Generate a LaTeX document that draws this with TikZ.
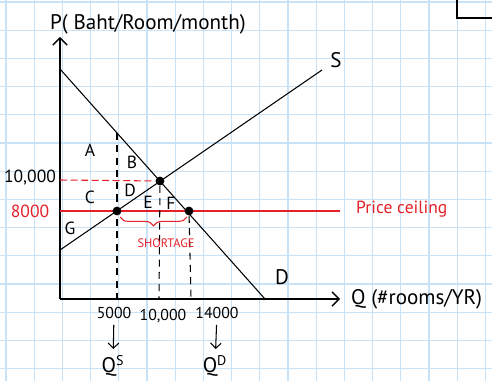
\documentclass[tikz,border=0pt]{standalone}
\usepackage{fontspec}
\setmainfont{PT Sans}
\usetikzlibrary{arrows.meta,decorations.pathreplacing}
\definecolor{gridblue}{RGB}{200,226,248}
\definecolor{ceilred}{RGB}{228,32,40}

\begin{document}
\begin{tikzpicture}[x=0.02cm, y=-0.02cm, font=\normalsize,
  curve/.style={draw=black, semithick},
  axis/.style={draw=black, thick, -{Straight Barb[length=4pt]}},
  guide/.style={draw=black, semithick, dash pattern=on 4pt off 3pt},
  dot/.style={circle, fill=black, inner sep=0pt, minimum size=5pt},
  redtxt/.style={text=ceilred},
  big/.style={font=\large},
  tick/.style={font=\small}]
\useasboundingbox (0,0) rectangle (492,381);
% grid paper
\foreach \i in {0,...,17} {\draw[gridblue, line width=0.6pt] (6+\i*28.2,0) -- (6+\i*28.2,381);}
\foreach \j in {0,...,13} {\draw[gridblue, line width=0.6pt] (0,2+\j*28.2) -- (492,2+\j*28.2);}
\draw[semithick] (457,0) -- (457,18) -- (492,18);

% axes
\coordinate (O) at (60,299);
\coordinate (yTop) at (60,37);
\coordinate (xEnd) at (340,299);
\draw[axis] (O) -- (yTop);
\draw[axis] (O) -- (xEnd);
\node[big, anchor=west] (pLab) at (44,24) {P( Baht/Room/month)};
\node[big, anchor=west] (qLab) at (345,299) {Q (\#rooms/YR)};

% demand and supply
\coordinate (dTop) at (60,69); \coordinate (dBot) at (265,299);
\coordinate (sBot) at (60,250); \coordinate (sTop) at (322,70);
\draw[curve] (dTop) -- (dBot);
\draw[curve] (sBot) -- (sTop);
\node[big] (sLab) at (336,60) {S};
\node[big] (dLab) at (282,277) {D};

% price ceiling
\coordinate (pcL) at (60,211); \coordinate (pcR) at (340,211);
\draw[ceilred, semithick] (pcL) -- (pcR);
\node[redtxt, anchor=west] (pcLab) at (350,209) {Price ceiling};
\node[redtxt] (p8000) at (30,211) {8000};

\node[dot] (eq) at (160,181) {};
\node[dot] (qs) at (117,211) {};
\node[dot] (qd) at (189,211) {};

% dashed guides
\coordinate (pe) at (60,180);
\draw[ceilred, semithick, dash pattern=on 4pt off 2pt] (pe) -- (eq);
\node (p10) at (30,178) {10,000};
\coordinate (qsTop) at (117,133); \coordinate (qsAx) at (117,299);
\coordinate (qeAx) at (159,299); \coordinate (qdAx) at (191,299);
\draw[guide] (qsTop) -- (qsAx);
\draw[guide] (eq) -- (qeAx);
\draw[guide] (qd) -- (qdAx);

% shortage
\coordinate (brL) at (120,217); \coordinate (brR) at (187,217);
\draw[ceilred, semithick, decorate, decoration={brace, mirror, amplitude=5pt}] (brL) -- (brR);
\node[redtxt, font=\scriptsize] (short) at (166,243) {SHORTAGE};

% areas
\foreach \n/\x/\y in {A/90/150, B/132/162, C/90/197, D/130/190, E/148/202, F/171/203, G/70/228}
  \node (area\n) at (\x,\y) {\n};

% quantities
\node[tick] (t5000) at (114,313) {5000};
\node[tick] (t10) at (163,316) {10,000};
\node[tick] (t14) at (217,313) {14000};
\node[big] (qsLab) at (113,366) {Q\textsuperscript{S}};
\node[big] (qdLab) at (215,366) {Q\textsuperscript{D}};
\draw[semithick, -{Straight Barb[length=3pt]}] (t5000) -- (qsLab);
\draw[semithick, -{Straight Barb[length=3pt]}] (t14) -- (qdLab);
\end{tikzpicture}
\end{document}
